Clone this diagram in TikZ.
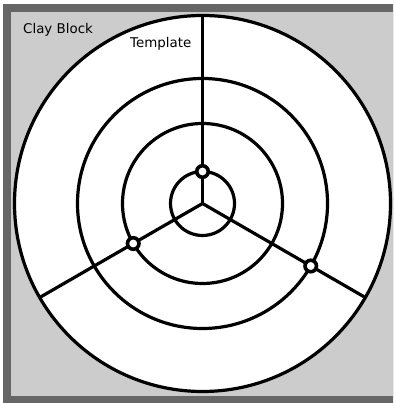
\documentclass[tikz,border=0pt]{standalone}
\usepackage{fontspec}
\setmainfont{DejaVu Sans}
\usepackage{tikz}
\usetikzlibrary{calc}
\definecolor{claygray}{HTML}{CCCCCC}
\definecolor{framegray}{HTML}{666666}

\begin{document}
\begin{tikzpicture}[x=1pt,y=1pt,
          every node/.style={font=\fontsize{13.4}{16}\selectfont,inner sep=0pt},
          ring/.style={draw=black,line width=3.2pt},
          spoke/.style={draw=black,line width=3.2pt},
          pin/.style={circle,draw=black,fill=white,line width=3.6pt,
                      minimum size=11.5pt,inner sep=0pt},
      ]
        \useasboundingbox (0,0) rectangle (393,403);
        \clip (0,0) rectangle (393,403);
        \fill[framegray] (3,-1) rectangle (404,399);
        \fill[claygray] (11,7) rectangle (396,391);

        \coordinate (center) at (202.5,199.5);
        \fill[white] (center) circle[radius=188];
        \draw[ring] (center) circle[radius=188];
        \draw[ring] (center) circle[radius=125];
        \draw[ring] (center) circle[radius=80];
        \draw[ring] (center) circle[radius=32];

        \coordinate (rimN) at ($(center)+(90:188)$);
        \coordinate (rimSW) at ($(center)+(210:188)$);
        \coordinate (rimSE) at ($(center)+(330:188)$);
        \draw[spoke] (center) -- (rimN);
        \draw[spoke] (center) -- (rimSW);
        \draw[spoke] (center) -- (rimSE);

        \node[pin] (pinN) at ($(center)+(90:32)$) {};
        \node[pin] (pinSW) at ($(center)+(210:80)$) {};
        \node[pin] (pinSE) at ($(center)+(330:125)$) {};

        \node[anchor=base west] (clay) at (23,369) {Clay Block};
        \node[anchor=base west] (template) at (130,355) {Template};
      \end{tikzpicture}
\end{document}
